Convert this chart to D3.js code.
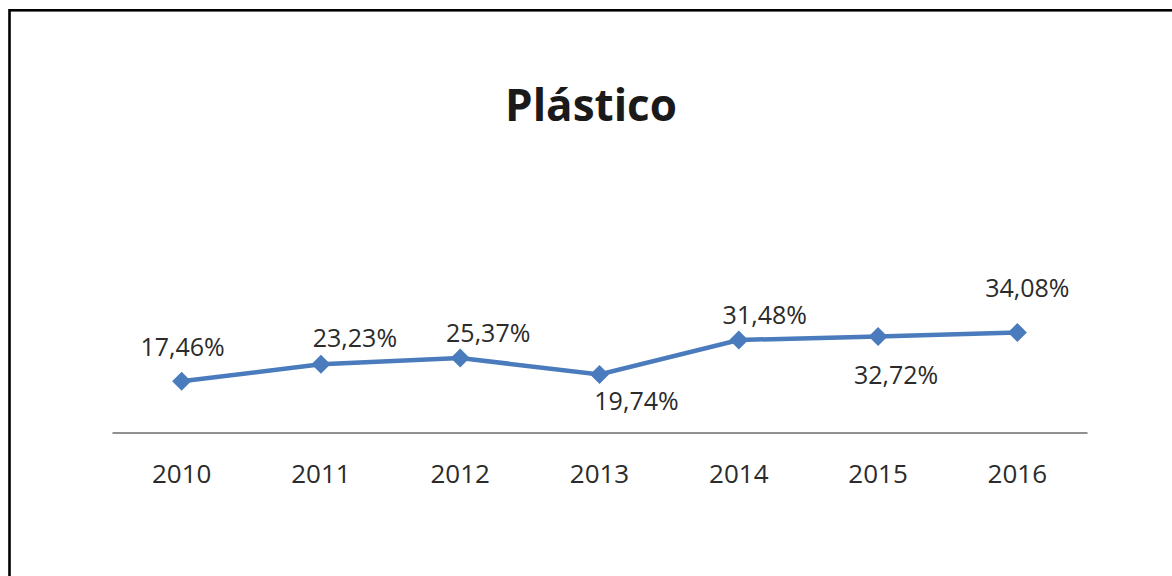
<!DOCTYPE html>
<html lang="pt">
<head>
    <meta charset="UTF-8">
    <title>Plástico</title>
    <script src="https://d3js.org/d3.v7.min.js"></script>
    <style>
        body { margin: 0; background: #fff; }
        text { font-family: "Open Sans", sans-serif; fill: #2b2b2b; }
    </style>
</head>
<body>
    <svg id="chart" width="1172" height="576"></svg>

    <script>
        // data
        const years = ["2010", "2011", "2012", "2013", "2014", "2015", "2016"];
        const values = [17.46, 23.23, 25.37, 19.74, 31.48, 32.72, 34.08];
        const valueLabels = ["17,46%", "23,23%", "25,37%", "19,74%", "31,48%", "32,72%", "34,08%"];

        // where each label sits relative to its point (hand placed, like the original)
        const labelOffsets = [[1, -25], [34, -17], [28, -16], [37, 35], [26, -16], [18, 48], [10, -35]];

        const svg = d3.select("#chart");

        // frame
        svg.append("rect")
            .attr("x", 9.5).attr("y", 10.3)
            .attr("width", 1300).attr("height", 700)
            .attr("fill", "none")
            .attr("stroke", "#000")
            .attr("stroke-width", 2.6);

        // title
        svg.append("text")
            .attr("x", 591).attr("y", 121)
            .attr("text-anchor", "middle")
            .style("font-size", "44px")
            .style("font-weight", "bold")
            .style("fill", "#1a1a1a")
            .text("Plástico");

        const x = d3.scaleBand()
            .domain(years)
            .range([112, 1087]);

        const y = d3.scaleLinear()
            .domain([0, 40])
            .range([432.5, 315]);

        // category axis
        const xAxis = svg.append("g")
            .attr("transform", "translate(0,432.5)")
            .call(d3.axisBottom(x).tickSize(0).tickPadding(32));
        xAxis.select(".domain").attr("stroke", "#909090").attr("stroke-width", 2.2);
        xAxis.selectAll("text")
            .style("font-size", "26px")
            .style("font-weight", "500")
            .style("font-family", "'Open Sans', sans-serif")
            .style("fill", "#2b2b2b");

        const cx = d => x(d) + x.bandwidth() / 2;

        const line = d3.line()
            .x((d, i) => cx(years[i]))
            .y(d => y(d));

        svg.append("path")
            .datum(values)
            .attr("d", line)
            .attr("fill", "none")
            .attr("stroke", "#4a7bbd")
            .attr("stroke-width", 4.5);

        // diamond markers
        svg.selectAll(".marker")
            .data(values)
            .enter().append("path")
            .attr("class", "marker")
            .attr("d", d3.symbol().type(d3.symbolDiamond2).size(230))
            .attr("transform", (d, i) => `translate(${cx(years[i])},${y(d)})`)
            .attr("fill", "#4a7bbd");

        // value labels
        svg.selectAll(".vlabel")
            .data(values)
            .enter().append("text")
            .attr("class", "vlabel")
            .attr("x", (d, i) => cx(years[i]) + labelOffsets[i][0])
            .attr("y", (d, i) => y(d) + labelOffsets[i][1])
            .attr("text-anchor", "middle")
            .style("font-size", "25px")
            .style("font-weight", "500")
            .text((d, i) => valueLabels[i]);
    </script>
</body>
</html>
